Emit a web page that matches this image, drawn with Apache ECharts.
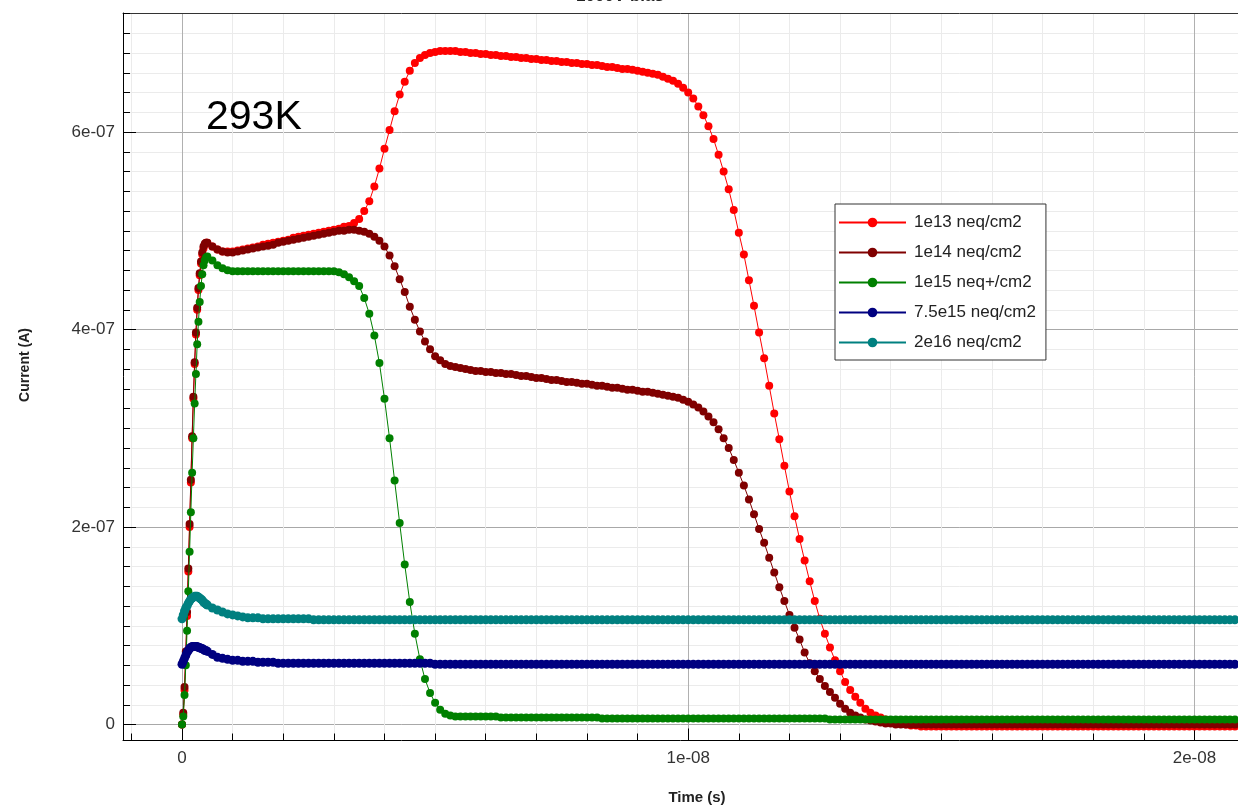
<!DOCTYPE html>
<html><head><meta charset="utf-8">
<script src="https://cdn.jsdelivr.net/npm/echarts@6/dist/echarts.min.js"></script>
<style>html,body{margin:0;padding:0;background:#fff}#c{width:1238px;height:808px}</style>
</head><body><div id="c"></div>
<script>
// ---- data (times in ns, currents in nA) ----
const seriesNames = ['1e13 neq/cm2', '1e14 neq/cm2', '1e15 neq+/cm2', '7.5e15 neq/cm2', '2e16 neq/cm2'];
const seriesColors = ['#ff0000', '#800000', '#008000', '#000080', '#008080'];

const timesFine = [0,0.025,0.05,0.075,0.1,0.125,0.15,0.175,0.2,0.225,0.25,0.275,0.3,0.325,0.35,0.375,0.4,0.425,0.45,0.475,0.5];
const timesCoarse = [0.6,0.7,0.8,0.9,
1.0,1.1,1.2,1.3,1.4,1.5,1.6,1.7,1.8,1.9,
2.0,2.1,2.2,2.3,2.4,2.5,2.6,2.7,2.8,2.9,
3.0,3.1,3.2,3.3,3.4,3.5,3.6,3.7,3.8,3.9,
4.0,4.1,4.2,4.3,4.4,4.5,4.6,4.7,4.8,4.9,
5.0,5.1,5.2,5.3,5.4,5.5,5.6,5.7,5.8,5.9,
6.0,6.1,6.2,6.3,6.4,6.5,6.6,6.7,6.8,6.9,
7.0,7.1,7.2,7.3,7.4,7.5,7.6,7.7,7.8,7.9,
8.0,8.1,8.2,8.3,8.4,8.5,8.6,8.7,8.8,8.9,
9.0,9.1,9.2,9.3,9.4,9.5,9.6,9.7,9.8,9.9,
10.0,10.1,10.2,10.3,10.4,10.5,10.6,10.7,10.8,10.9,
11.0,11.1,11.2,11.3,11.4,11.5,11.6,11.7,11.8,11.9,
12.0,12.1,12.2,12.3,12.4,12.5,12.6,12.7,12.8,12.9,
13.0,13.1,13.2,13.3,13.4,13.5,13.6,13.7,13.8,13.9,
14.0,14.1,14.2,14.3,14.4,14.5,14.6,14.7,14.8,14.9,
15.0,15.1,15.2,15.3,15.4,15.5,15.6,15.7,15.8,15.9,
16.0,16.1,16.2,16.3,16.4,16.5,16.6,16.7,16.8,16.9,
17.0,17.1,17.2,17.3,17.4,17.5,17.6,17.7,17.8,17.9,
18.0,18.1,18.2,18.3,18.4,18.5,18.6,18.7,18.8,18.9,
19.0,19.1,19.2,19.3,19.4,19.5,19.6,19.7,19.8,19.9,
20.0,20.1,20.2,20.3,20.4,20.5,20.6,20.7,20.8,20.9];

const redFine = [0,10,35,70,110,155,200,245,290,330,365,395,420,440,455,467,476,482,486,488,488];
const redCoarse = [484,481,479,479,
479,480,481,482,483,484,486,487,488,489,
490,491,493,494,495,496,497,498,499,500,
501,502,504,505,508,512,520,530,545,563,
583,602,621,638,651,662,670,675,678,680,
681,682,682,682,682,681,681,680,680,679,
679,678,678,677,677,676,676,675,675,674,
674,673,673,672,672,671,671,670,670,669,
669,668,668,667,666,666,665,664,664,663,
662,661,660,659,658,656,654,652,649,645,
640,634,626,617,606,593,577,560,542,521,
498,476,450,424,397,371,343,315,289,262,
236,211,188,166,145,125,107,92,78,65,
54,43,35,28,22,16,12,9,7,5,
3,2,1,0,-1,-1,-2,-2,-2,-2,
-2,-2,-2,-2,-2,-2,-2,-2,-2,-2,
-2,-2,-2,-2,-2,-2,-2,-2,-2,-2,
-2,-2,-2,-2,-2,-2,-2,-2,-2,-2,
-2,-2,-2,-2,-2,-2,-2,-2,-2,-2,
-2,-2,-2,-2,-2,-2,-2,-2,-2,-2,
-2,-2,-2,-2,-2,-2,-2,-2,-2,-2];

const darkRedFine = [0,12,38,74,114,158,203,248,292,332,367,397,422,442,457,469,478,484,487,488,488];
const darkRedCoarse = [484,481,479,478,
478,479,480,481,482,483,484,485,486,488,
489,490,491,492,493,494,495,496,497,498,
499,500,500,501,501,500,499,497,494,490,
484,475,464,451,438,423,410,398,388,380,
373,369,365,363,362,361,360,359,358,358,
357,357,356,356,355,355,354,353,353,352,
351,351,350,349,349,348,347,347,346,345,
345,344,343,343,342,341,341,340,339,339,
338,337,337,336,335,334,333,332,331,329,
327,324,321,317,312,306,299,290,280,268,
255,242,228,213,198,184,169,154,139,125,
111,98,86,73,62,54,46,39,33,27,
21,16,12,9,7,5,4,3,2,1,
1,0,0,0,0,0,0,0,0,0,
0,0,0,0,0,0,0,0,0,0,
0,0,0,0,0,0,0,0,0,0,
0,0,0,0,0,0,0,0,0,0,
0,0,0,0,0,0,0,0,0,0,
0,0,0,0,0,0,0,0,0,0,
0,0,0,0,0,0,0,0,0,0];

const greenFine = [0,8,30,60,95,135,175,215,255,290,325,355,385,408,428,444,456,465,470,473,474];
const greenCoarse = [470,465,462,460,
459,459,459,459,459,459,459,459,459,459,
459,459,459,459,459,459,459,459,459,459,
459,458,456,453,449,444,432,416,394,366,
330,290,247,204,162,124,92,66,46,32,
22,15,11,9,8,8,8,8,8,8,
8,8,8,7,7,7,7,7,7,7,
7,7,7,7,7,7,7,7,7,7,
7,7,7,6,6,6,6,6,6,6,
6,6,6,6,6,6,6,6,6,6,
6,6,6,6,6,6,6,6,6,6,
6,6,6,6,6,6,6,6,6,6,
6,6,6,6,6,6,6,6,5,5,
5,5,5,5,5,5,5,5,5,5,
5,5,5,5,5,5,5,5,5,5,
5,5,5,5,5,5,5,5,5,5,
5,5,5,5,5,5,5,5,5,5,
5,5,5,5,5,5,5,5,5,5,
5,5,5,5,5,5,5,5,5,5,
5,5,5,5,5,5,5,5,5,5,
5,5,5,5,5,5,5,5,5,5];

const blueFine = [61,64,67,70,73,75,77,78,79,79,79,79,79,78,78,77,77,76,75,75,74];
const blueCoarse = [71,68,67,66,
65,65,64,64,64,63,63,63,63,62,
62,62,62,62,62,62,62,62,62,62,
62,62,62,62,62,62,62,62,62,62,
62,62,62,62,62,62,62,62,62,62,
61,61,61,61,61,61,61,61,61,61,
61,61,61,61,61,61,61,61,61,61,
61,61,61,61,61,61,61,61,61,61,
61,61,61,61,61,61,61,61,61,61,
61,61,61,61,61,61,61,61,61,61,
61,61,61,61,61,61,61,61,61,61,
61,61,61,61,61,61,61,61,61,61,
61,61,61,61,61,61,61,61,61,61,
61,61,61,61,61,61,61,61,61,61,
61,61,61,61,61,61,61,61,61,61,
61,61,61,61,61,61,61,61,61,61,
61,61,61,61,61,61,61,61,61,61,
61,61,61,61,61,61,61,61,61,61,
61,61,61,61,61,61,61,61,61,61,
61,61,61,61,61,61,61,61,61,61,
61,61,61,61,61,61,61,61,61,61];

const tealFine = [107,111,115,118,120,123,125,127,128,129,130,130,130,129,128,127,126,124,123,122,121];
const tealCoarse = [118,116,114,112,
111,110,109,108,108,108,107,107,107,107,
107,107,107,107,107,107,106,106,106,106,
106,106,106,106,106,106,106,106,106,106,
106,106,106,106,106,106,106,106,106,106,
106,106,106,106,106,106,106,106,106,106,
106,106,106,106,106,106,106,106,106,106,
106,106,106,106,106,106,106,106,106,106,
106,106,106,106,106,106,106,106,106,106,
106,106,106,106,106,106,106,106,106,106,
106,106,106,106,106,106,106,106,106,106,
106,106,106,106,106,106,106,106,106,106,
106,106,106,106,106,106,106,106,106,106,
106,106,106,106,106,106,106,106,106,106,
106,106,106,106,106,106,106,106,106,106,
106,106,106,106,106,106,106,106,106,106,
106,106,106,106,106,106,106,106,106,106,
106,106,106,106,106,106,106,106,106,106,
106,106,106,106,106,106,106,106,106,106,
106,106,106,106,106,106,106,106,106,106,
106,106,106,106,106,106,106,106,106,106];

// ticks
const xMajorTicks = [0, 1e-8, 2e-8];
const xMajorLabels = ['0', '1e-08', '2e-08'];
const xMinorTicks = [-1e-9,0,1e-9,2e-9,3e-9,4e-9,5e-9,6e-9,7e-9,8e-9,9e-9,1e-8,1.1e-8,1.2e-8,1.3e-8,1.4e-8,1.5e-8,1.6e-8,1.7e-8,1.8e-8,1.9e-8,2e-8];
const yMajorTicks = [0, 2e-7, 4e-7, 6e-7];
const yMajorLabels = ['0', '2e-07', '4e-07', '6e-07'];
const yMinorTicks = [0,2e-8,4e-8,6e-8,8e-8,1e-7,1.2e-7,1.4e-7,1.6e-7,1.8e-7,2e-7,2.2e-7,2.4e-7,2.6e-7,2.8e-7,3e-7,3.2e-7,3.4e-7,3.6e-7,3.8e-7,4e-7,4.2e-7,4.4e-7,4.6e-7,4.8e-7,5e-7,5.2e-7,5.4e-7,5.6e-7,5.8e-7,6e-7,6.2e-7,6.4e-7,6.6e-7,6.8e-7,7e-7,7.2e-7];

const X_MIN = -1.1655e-9, X_MAX = 2.0861e-8;
const Y_MIN = -1.62e-8, Y_MAX = 7.206e-7;

// ---- chart ----
const times = timesFine.concat(timesCoarse);
const valueSets = [
  redFine.concat(redCoarse),
  darkRedFine.concat(darkRedCoarse),
  greenFine.concat(greenCoarse),
  blueFine.concat(blueCoarse),
  tealFine.concat(tealCoarse)
];
function labelFor(v, ticks, labels) {
  for (let i = 0; i < ticks.length; i++) {
    if (Math.abs(v - ticks[i]) < 1e-12) return labels[i];
  }
  return '';
}
const FONT = 'Liberation Sans, Arial, sans-serif';
const chart = echarts.init(document.getElementById('c'), null, {renderer: 'canvas'});
const series = valueSets.map((vals, k) => ({
  name: seriesNames[k],
  type: 'line',
  data: times.map((t, i) => [t * 1e-9, vals[i] * 1e-9]),
  symbol: 'circle',
  symbolSize: k >= 3 ? 9 : 8,
  showSymbol: true,
  showAllSymbol: true,
  color: seriesColors[k],
  lineStyle: {width: 1, color: seriesColors[k]},
  itemStyle: {color: seriesColors[k]},
  emphasis: {disabled: true},
  clip: true,
  z: 3 + k
}));
chart.setOption({
  animation: false,
  backgroundColor: '#ffffff',
  grid: {left: 123, right: 0, top: 13, bottom: 67.5, containLabel: false},
  xAxis: [
    {
      type: 'value', min: X_MIN, max: X_MAX, position: 'bottom',
      axisLine: {show: true, onZero: false, lineStyle: {color: '#000', width: 1}},
      axisTick: {show: true, inside: true, length: 7, customValues: xMinorTicks, lineStyle: {color: '#000'}},
      axisLabel: {show: true, customValues: xMajorTicks, formatter: v => labelFor(v, xMajorTicks, xMajorLabels),
        color: '#333', fontSize: 17, fontFamily: FONT, margin: 9},
      splitLine: {show: true, lineStyle: {color: '#ebebeb', width: 1}}
    },
    {
      type: 'value', min: X_MIN, max: X_MAX, position: 'bottom',
      axisLine: {show: false, onZero: false},
      axisTick: {show: true, inside: true, length: 12, customValues: xMajorTicks, lineStyle: {color: '#000'}},
      axisLabel: {show: false},
      splitLine: {show: true, lineStyle: {color: '#b0b0b0', width: 1}}
    },
    {
      type: 'value', min: X_MIN, max: X_MAX, position: 'top',
      axisLine: {show: true, onZero: false, lineStyle: {color: '#333', width: 1}},
      axisTick: {show: false}, axisLabel: {show: false}, splitLine: {show: false}
    }
  ],
  yAxis: [
    {
      type: 'value', min: Y_MIN, max: Y_MAX, position: 'left',
      axisLine: {show: true, onZero: false, lineStyle: {color: '#000', width: 1}},
      axisTick: {show: true, inside: true, length: 7, customValues: yMinorTicks, lineStyle: {color: '#000'}},
      axisLabel: {show: true, customValues: yMajorTicks, formatter: v => labelFor(v, yMajorTicks, yMajorLabels),
        color: '#333', fontSize: 17, fontFamily: FONT, margin: 8},
      splitLine: {show: true, lineStyle: {color: '#ebebeb', width: 1}}
    },
    {
      type: 'value', min: Y_MIN, max: Y_MAX, position: 'left',
      axisLine: {show: false, onZero: false},
      axisTick: {show: true, inside: true, length: 13, customValues: yMajorTicks, lineStyle: {color: '#000'}},
      axisLabel: {show: false},
      splitLine: {show: true, lineStyle: {color: '#a8a8a8', width: 1}}
    }
  ],
  legend: {
    orient: 'vertical', left: 835, top: 204,
    itemWidth: 67, itemHeight: 12, itemGap: 13,
    padding: [10, 10, 9, 3],
    backgroundColor: '#fff', borderColor: '#333', borderWidth: 1, borderRadius: 0,
    textStyle: {fontSize: 17, color: '#222', fontFamily: FONT, padding: [0, 0, 0, 3]},
    data: seriesNames
  },
  series: series,
  graphic: [
    {type: 'text', x: 620, y: 5, z: 10, style: {text: '1000V bias', textAlign: 'center', textVerticalAlign: 'bottom', font: 'bold 17px ' + FONT, fill: '#222'}},
    {type: 'text', x: 206, y: 118, z: 10, style: {text: '293K', textAlign: 'left', textVerticalAlign: 'middle', font: '41px ' + FONT, fill: '#000'}},
    {type: 'text', x: 25, y: 365, rotation: Math.PI / 2, z: 10, style: {text: 'Current (A)', textAlign: 'center', textVerticalAlign: 'middle', font: 'bold 14px ' + FONT, fill: '#222'}},
    {type: 'text', x: 697, y: 798, z: 10, style: {text: 'Time (s)', textAlign: 'center', textVerticalAlign: 'middle', font: 'bold 15px ' + FONT, fill: '#222'}}
  ]
});
</script>
</body></html>
